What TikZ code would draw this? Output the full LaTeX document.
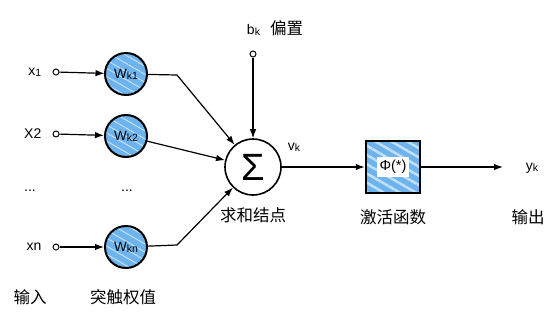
\documentclass[tikz,border=0pt]{standalone}
\usepackage{fontspec}
\setmainfont{Liberation Sans}
\newfontfamily\cjk{Noto Sans CJK SC}
\usepackage{tikz}
\usetikzlibrary{arrows.meta,positioning,patterns.meta}
\definecolor{SketchBlue}{HTML}{6DB3EE}
\definecolor{BandBlue}{HTML}{C4E0F8}
\newcommand{\idx}[1]{\raisebox{-0.15ex}{\fontsize{10.5}{11}\selectfont #1}}

\begin{document}
\begin{tikzpicture}[x=1pt,y=-1pt,>={Latex[length=9pt,width=6.5pt]},
  lbl/.style={inner sep=0pt,font=\fontsize{14}{15}\selectfont},
  cjklbl/.style={inner sep=0pt,font=\fontsize{16.5}{17}\cjk},
  dot/.style={circle,draw,fill=white,line width=1pt,minimum size=6pt,inner sep=0pt},
  wcirc/.style={circle,draw,line width=2pt,minimum size=42pt,inner sep=0pt,preaction={fill=SketchBlue},pattern={Lines[angle=-30,distance=7pt,line width=1pt]},pattern color=BandBlue,font=\fontsize{13.5}{14}\selectfont},
  sumc/.style={circle,draw,line width=1.6pt,fill=white,minimum size=56pt,inner sep=0pt,font=\fontsize{38}{38}\selectfont},
  actbox/.style={draw,line width=2pt,minimum width=54pt,minimum height=52pt,inner sep=0pt,preaction={fill=SketchBlue},pattern={Lines[angle=-30,distance=8pt,line width=2.5pt]},pattern color=BandBlue,font=\fontsize{14.5}{15}\selectfont},
  wire/.style={line width=1.2pt}]
\useasboundingbox (0,0) rectangle (557,322);
\node[dot] (in1) at (56,72) {};
\node[dot] (in2) at (56,134) {};
\node[dot] (inn) at (56,247) {};
\node[wcirc] (w1) at (126,74) {W\idx{k1}};
\node[wcirc] (w2) at (126,136) {W\idx{k2}};
\node[wcirc] (wn) at (126,247) {W\idx{kn}};
\node[lbl,left=11pt of in1] (x1) {x\idx{1}};
\node[lbl,left=11pt of in2] (x2) {X2};
\node[lbl,left=11pt of inn] (xn) {xn};
\node[lbl] (dotsin) at (30,191) {...};
\node[lbl] (dotsw) at (127,191) {...};
\node[cjklbl] (inlab) at (30,297) {输入};
\node[cjklbl] (wlab) at (123,297) {突触权值};
\node[sumc] (sum) at (253,167) {Σ};
\node[dot] (bdot) at (253,54) {};
\node[lbl] (bias) at (275,28) {b\idx{k}\hspace{10pt}{\cjk\fontsize{16.5}{17}\selectfont 偏置}};
\node[lbl] (vk) at (294,147) {v\idx{k}};
\node[cjklbl,below=12pt of sum] (sumlab) {求和结点};
\node[actbox] (act) at (393,167) {\setlength{\fboxsep}{3pt}\colorbox{white}{Φ(*)}};
\node[cjklbl,below=15pt of act] (actlab) {激活函数};
\coordinate (out) at (503,167);
\node[lbl] (yk) at (532,168) {y\idx{k}};
\node[cjklbl] (outlab) at (528,217) {输出};
\coordinate (e1) at (177,75);
\coordinate (en) at (177,245);
\draw[->,wire] (in1)--(w1);\draw[->,wire] (in2)--(w2);\draw[->,wire] (inn)--(wn);
\draw[->,wire] (w1)--(e1)--(sum);\draw[->,wire] (w2)--(sum);\draw[->,wire] (wn)--(en)--(sum);
\draw[->,wire] (bdot)--(sum);\draw[->,wire] (sum)--(act);\draw[->,wire] (act)--(out);
\end{tikzpicture}
\end{document}
